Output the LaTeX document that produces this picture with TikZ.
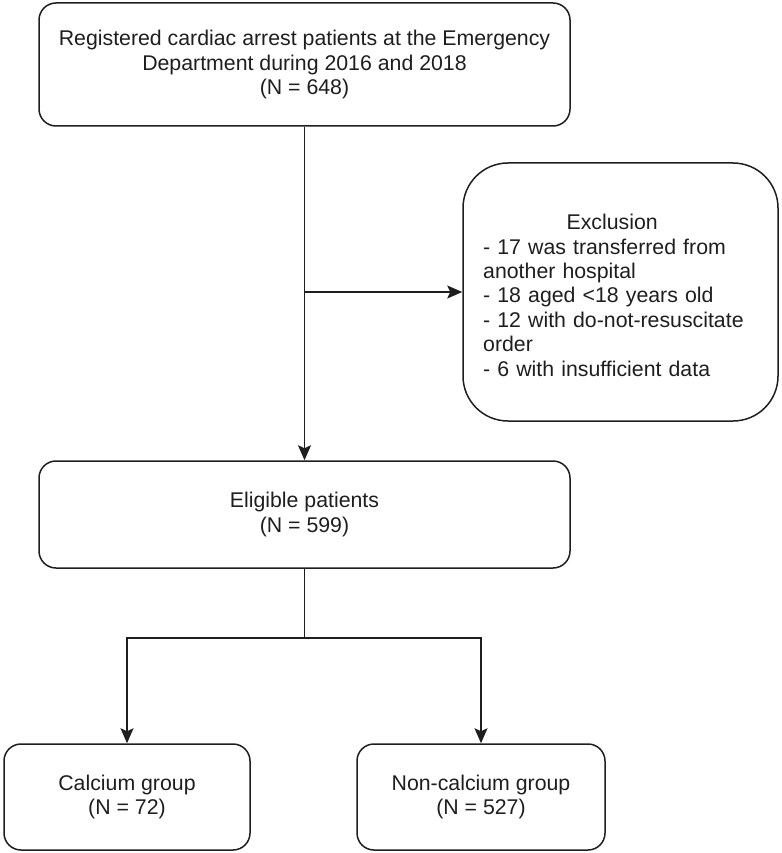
\documentclass[tikz,border=0pt]{standalone}
\usepackage{fontspec}
\setmainfont{Liberation Sans}
\usetikzlibrary{arrows.meta}
\definecolor{ink}{HTML}{1E1E1E}
\tikzset{
  box/.style={draw=ink, line width=1.5pt, rectangle, rounded corners=17pt, align=center, text=ink,
    font=\fontsize{21.3}{24.4}\selectfont, inner sep=0pt},
  conn/.style={draw=ink, line width=1.5pt},
  arr/.style={conn, -{Stealth[length=15pt, width=13pt, inset=3pt]}},
}
\begin{document}
\begin{tikzpicture}[x=1pt, y=-1pt]
\useasboundingbox (0,0) rectangle (781,853);
\node[box, minimum width=531pt, minimum height=123pt] (top) at (304.5,64.5)
  {Registered cardiac arrest patients at the Emergency\\Department during 2016 and 2018\\(N = 648)};
\node[box, rounded corners=45pt, minimum width=315pt, minimum height=258pt] (exc) at (620.5,292) {};
\node[anchor=north west, align=left, text=ink, inner sep=0pt, text width=280pt,
  font=\fontsize{21.3}{24.4}\selectfont] (exctext) at (483,214)
  {\makebox[258pt]{Exclusion}\\- 17 was transferred from\\another hospital\\- 18 aged <18 years old\\- 12 with do-not-resuscitate\\order\\- 6 with insufficient data};
\node[box, minimum width=531pt, minimum height=107pt] (elig) at (304.5,514.5)
  {Eligible patients\\(N = 599)};
\node[box, minimum width=246pt, minimum height=106pt] (calc) at (127,797)
  {Calcium group\\(N = 72)};
\node[box, minimum width=248pt, minimum height=106pt] (noncalc) at (481,797)
  {Non-calcium group\\(N = 527)};
\draw[arr] (top.south) -- (elig.north);
\draw[arr] (top.south |- exc.west) -- (exc.west);
\coordinate (br) at (304.5,638);
\draw[conn] (elig.south) -- (br);
\draw[arr] (br) -| (calc.north);
\draw[arr] (br) -| (noncalc.north);
\end{tikzpicture}
\end{document}
